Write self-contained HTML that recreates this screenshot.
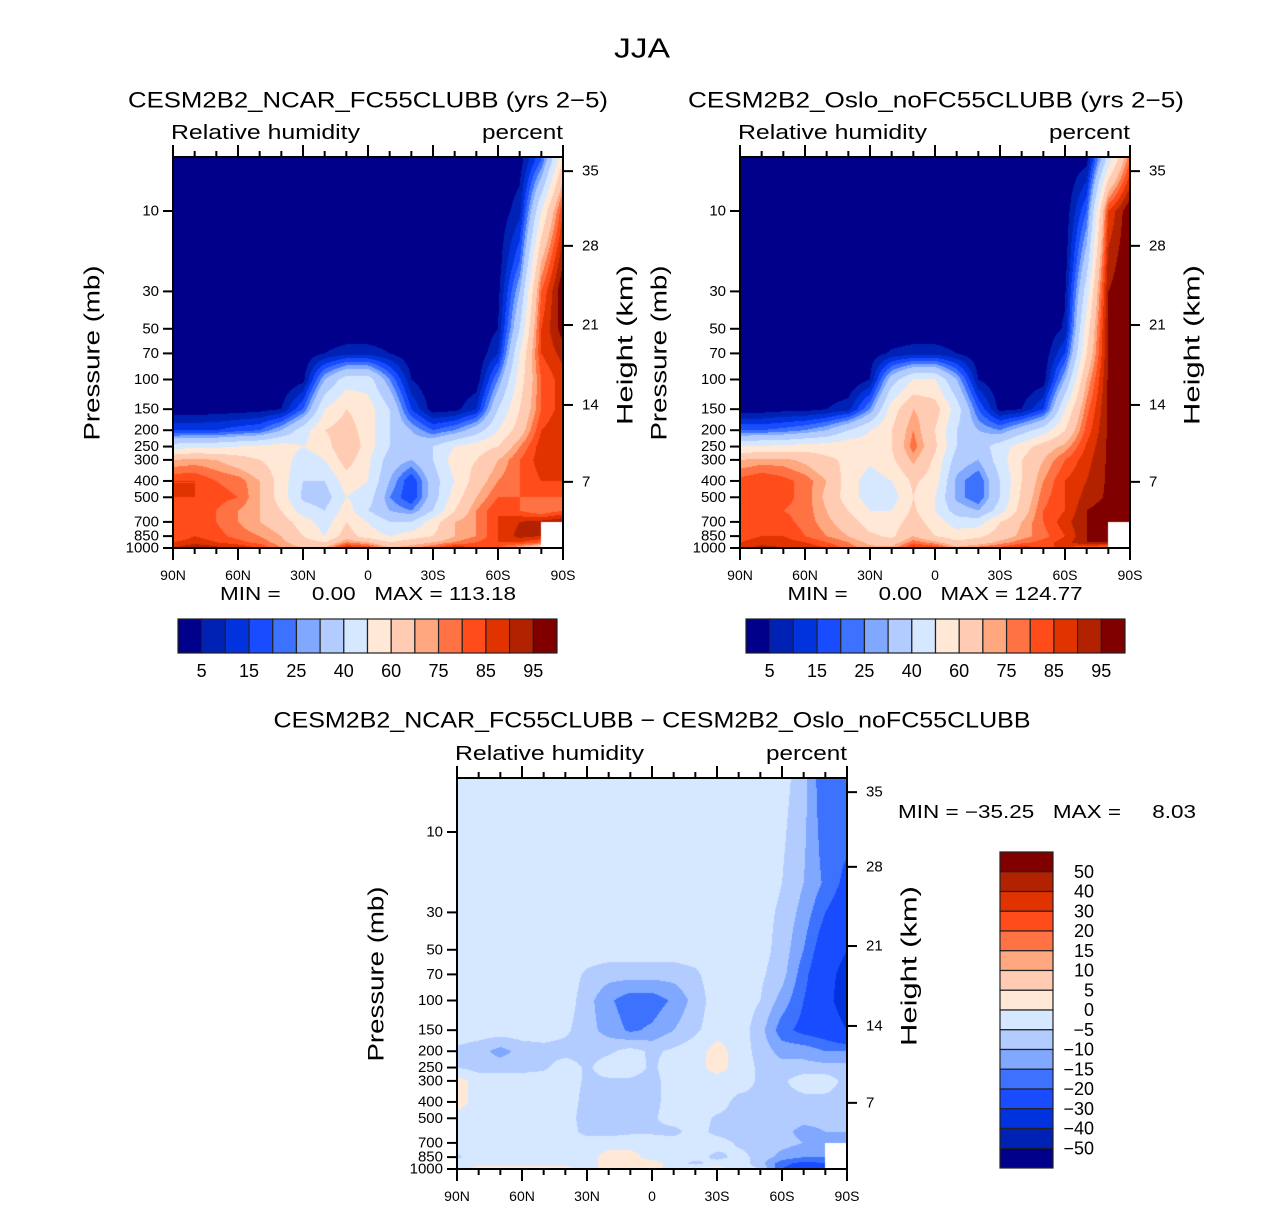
<!DOCTYPE html>
<html><head><meta charset="utf-8">
<style>
html,body{margin:0;padding:0;background:#fff;}
#wrap{position:relative;width:1285px;height:1207px;overflow:hidden;font-family:"Liberation Sans",sans-serif;}
canvas{position:absolute;}
svg{position:absolute;left:0;top:0;}
text{font-family:"Liberation Sans",sans-serif;fill:#000;white-space:pre;}
</style></head><body>
<div id="wrap">
<canvas id="c1" width="390" height="391" style="left:173px;top:157px"></canvas>
<canvas id="c2" width="390" height="391" style="left:740px;top:157px"></canvas>
<canvas id="c3" width="390" height="391" style="left:457px;top:778px"></canvas>
<svg id="s" width="1285" height="1207"></svg>
</div>
<script>
// ---- data ----
const lats = ["90N","80N","70N","60N","50N","40N","30N","20N","10N","0","10S","20S","30S","40S","50S","60S","70S","80S","90S"];
const plevs = [5,10,20,30,50,70,100,150,200,250,300,400,500,600,700,850,925,1000];
const xTickLabels = ["90N","60N","30N","0","30S","60S","90S"];
const pTickLabels = [10,30,50,70,100,150,200,250,300,400,500,700,850,1000];
const hTickLabels = [35,28,21,14,7];
const hTickPressures = [5.8,16.1,47.5,141.6,405];
const rhLevels = [5,10,15,20,25,30,40,50,60,70,75,80,85,90,95];
const rhLabels = ["5","15","25","40","60","75","85","95"];
const diffLevels = [-50,-40,-30,-20,-15,-10,-5,0,5,10,15,20,30,40,50];
const diffLabels = ["50","40","30","20","15","10","5","0","\u22125","\u221210","\u221215","\u221220","\u221230","\u221240","\u221250"];
const palette = ["#00008a","#0022b4","#0033dd","#1a4cff","#3d72ff","#80a8ff","#b3ccff","#d6e8ff","#ffe8d6","#ffccb3","#ffa880","#ff7244","#ff4c1a","#e03300","#b32200","#800000"];
const N = null;
const ncar = [
[0,0,0,0,0,0,0,0,0,0,0,0,0,0,0,0,2,20,60],
[0,0,0,0,0,0,0,0,0,0,0,0,0,0,0,1,8,50,85],
[0,0,0,0,0,0,0,0,0,0,0,0,0,0,0,2,20,70,95],
[0,0,0,0,0,0,0,0,0,0,0,0,0,0,0,3,30,80,100],
[0,0,0,0,0,0,0,0,0,0,0,0,0,0,0,5,40,85,98],
[0,0,0,0,0,0,1,5,8,8,5,1,0,0,0,10,50,85,92],
[0,0,0,0,0,0,3,30,45,45,25,5,0,0,1,25,55,80,88],
[1,1,2,2,3,5,20,50,60,55,40,15,2,3,10,40,60,80,88],
[15,15,15,18,20,30,45,60,65,55,40,30,20,25,35,50,65,85,90],
[45,48,48,50,52,55,50,55,70,55,40,35,40,50,55,60,75,88,90],
[70,72,70,65,60,55,45,50,65,52,35,30,40,55,60,70,80,88,88],
[85,85,80,78,70,55,40,40,55,50,30,15,35,50,65,75,80,85,85],
[85,85,82,80,70,55,38,35,50,45,25,15,35,55,70,80,80,80,80],
[80,82,80,75,70,60,45,40,55,40,30,25,40,60,75,85,80,75,80],
[85,85,80,75,70,65,55,45,60,50,40,40,55,70,75,85,90,92,95],
[80,85,82,78,75,70,60,50,65,55,50,55,60,70,75,85,92,90,N],
[85,88,85,82,78,72,65,60,75,70,60,65,70,75,80,85,85,80,N],
[90,95,92,90,85,75,70,70,90,85,70,75,80,90,85,80,70,60,N]];
const oslo = [
[0,0,0,0,0,0,0,0,0,0,0,0,0,0,0,0,3,45,80],
[0,0,0,0,0,0,0,0,0,0,0,0,0,0,0,1,20,85,100],
[0,0,0,0,0,0,0,0,0,0,0,0,0,0,0,2,35,92,100],
[0,0,0,0,0,0,0,0,0,0,0,0,0,0,0,4,45,95,100],
[0,0,0,0,0,0,0,0,0,0,0,0,0,0,0,6,55,96,100],
[0,0,0,0,0,0,2,6,8,8,5,1,0,0,1,15,60,96,100],
[0,0,0,0,0,0,5,35,50,50,30,5,0,0,2,30,70,96,100],
[2,2,3,3,5,8,25,55,70,65,45,20,3,5,15,50,78,96,100],
[20,20,22,25,30,40,50,60,75,60,40,30,25,35,45,60,82,96,100],
[50,52,52,55,55,58,55,60,78,62,40,35,45,55,65,72,86,96,100],
[70,72,72,68,62,58,52,58,72,58,35,30,45,60,70,80,88,96,100],
[82,85,82,78,70,55,45,50,62,55,28,20,40,60,75,85,90,96,100],
[82,85,82,78,68,55,45,45,60,50,28,20,40,62,78,85,92,96,100],
[82,82,80,78,70,60,50,50,62,50,35,30,45,65,80,85,95,98,100],
[85,85,82,78,72,65,55,55,65,55,45,45,60,70,80,88,95,98,100],
[82,85,85,80,75,70,62,58,70,60,55,58,65,72,78,85,95,98,N],
[85,88,88,85,80,75,68,65,78,72,62,65,72,78,82,88,95,95,N],
[88,92,90,90,85,78,72,72,88,85,72,78,82,88,85,85,80,75,N]];
const diff = [
[-2,-2,-2,-2,-2,-2,-2,-2,-2,-2,-2,-2,-2,-2,-2,-3,-8,-20,-15],
[-2,-2,-2,-2,-2,-2,-2,-2,-2,-2,-2,-2,-2,-2,-2,-4,-9,-18,-18],
[-2,-2,-2,-2,-2,-2,-2,-2,-2,-2,-2,-2,-2,-2,-2,-5,-10,-16,-22],
[-2,-2,-2,-2,-2,-2,-2,-2,-2,-2,-2,-2,-2,-2,-3,-6,-12,-20,-25],
[-2,-2,-2,-2,-2,-2,-2,-2,-2,-2,-2,-2,-2,-2,-3,-7,-15,-25,-30],
[-2,-2,-2,-2,-2,-2,-6,-8,-8,-8,-8,-6,-2,-2,-4,-8,-18,-27,-33],
[-2,-2,-2,-2,-2,-2,-8,-14,-18,-18,-14,-8,-2,-2,-5,-12,-20,-27,-35],
[-2,-2,-2,-2,-2,-4,-8,-12,-16,-14,-10,-6,-2,-2,-8,-18,-22,-24,-30],
[-6,-8,-12,-8,-7,-7,-7,-6,-3,-6,-4,-2,2,-2,-7,-12,-12,-15,-15],
[-5,-7,-7,-7,-6,-2,-6,-2,-2,-6,-2,-2,2,-2,-6,-8,-8,-8,-8],
[2,-2,-2,-2,-2,-2,-6,-6,-6,-7,-2,-2,-2,-2,-6,-6,-2,-2,-7],
[2,-2,-2,-2,-2,-2,-7,-8,-8,-7,-2,-2,-2,-7,-6,-7,-7,-7,-7],
[-2,-2,-2,-2,-2,-2,-8,-8,-8,-6,-2,-2,-6,-7,-6,-7,-8,-8,-8],
[-2,-2,-2,-2,-2,-2,-7,-7,-6,-6,-7,-2,-7,-8,-7,-8,-12,-10,-10],
[-2,-2,-2,-2,-2,-2,-2,-2,-2,-2,-2,-2,-2,-6,-7,-8,-10,-12,-12],
[-6,-2,-2,-2,-2,-2,-2,2,2,-2,-2,-2,-7,-3,-7,-12,-15,-15,N],
[-2,-2,-2,-2,-2,-2,-2,2,2,2,-2,-7,-2,-2,-8,-18,-22,-20,N],
[-2,2,2,2,2,2,-2,2,2,2,-2,2,2,-2,-5,-20,-25,-20,N]];

// ---- axes helpers ----
const PW = 390, PH = 391;
function xOfLat(i){ return i * PW / (lats.length - 1); }
function yOfP(p){ return 54 + (Math.log10(p) - 1) * 168.5; }
function colorIndex(v, levels){ let k = 0; while (k < levels.length && v >= levels[k]) k++; return k; }

function drawField(id, grid, levels){
  const ctx = document.getElementById(id).getContext('2d');
  const logs = plevs.map(p => Math.log10(p));
  for (let py = 0; py < PH; py++){
    const lp = 1 + (py + 0.5 - 54) / 168.5;
    let r = 0; while (r < logs.length - 2 && lp > logs[r+1]) r++;
    let fy = (lp - logs[r]) / (logs[r+1] - logs[r]); fy = Math.max(0, Math.min(1, fy));
    for (let px = 0; px < PW; px++){
      const fx = (px + 0.5) / PW * (lats.length - 1);
      let c = Math.min(lats.length - 2, Math.floor(fx)); const tx = fx - c;
      const a = grid[r][c], b = grid[r][c+1], d = grid[r+1][c], e = grid[r+1][c+1];
      if (a === null || b === null || d === null || e === null) continue;
      const v = (a*(1-tx) + b*tx) * (1-fy) + (d*(1-tx) + e*tx) * fy;
      ctx.fillStyle = palette[colorIndex(v, levels)];
      ctx.fillRect(px, py, 1, 1);
    }
  }
}
drawField('c1', ncar, rhLevels);
drawField('c2', oslo, rhLevels);
drawField('c3', diff, diffLevels);

// ---- svg annotations ----
const S = document.getElementById('s'), NS = 'http://www.w3.org/2000/svg';
function el(tag, attrs, txt){ const e = document.createElementNS(NS, tag); for (const k in attrs) e.setAttribute(k, attrs[k]); if (txt !== undefined) e.textContent = txt; S.appendChild(e); return e; }
function txt(x, y, s, size, anchor, name, rot, len){
  const t = el('text', {x:x, y:y, 'font-size':size, 'text-anchor':anchor||'start', 'dominant-baseline':'central'}, s);
  if (rot) t.setAttribute('transform', 'rotate(-90 ' + x + ' ' + y + ')');
  if (len) { t.setAttribute('textLength', len); t.setAttribute('lengthAdjust', 'spacingAndGlyphs'); }
  
  
  return t;
}
function panel(ox, oy, pre){
  const fr = el('rect', {x:ox, y:oy, width:PW, height:PH, fill:'none', stroke:'#000', 'stroke-width':2});
  
  
  for (let d = 0; d <= 18; d++){
    const x = ox + xOfLat(d), major = d % 3 === 0, L = major ? 12 : 6;
    const t1 = el('line', {x1:x, x2:x, y1:oy, y2:oy - L, stroke:'#000', 'stroke-width':2});
    
    
    const t2 = el('line', {x1:x, x2:x, y1:oy + PH, y2:oy + PH + L, stroke:'#000', 'stroke-width':2});
    
    
  }
  xTickLabels.forEach((s, k) => txt(ox + xOfLat(k*3), oy + PH + 27, s, 14, 'middle', pre + '-x-tick-label'));
  pTickLabels.forEach(p => {
    const y = oy + yOfP(p);
    const l = el('line', {x1:ox - 10, x2:ox, y1:y, y2:y, stroke:'#000', 'stroke-width':2});
    
    
    txt(ox - 14, y, String(p), 15, 'end', pre + '-pressure-tick-label');
  });
  hTickLabels.forEach((h, k) => {
    const y = oy + yOfP(hTickPressures[k]);
    const l = el('line', {x1:ox + PW, x2:ox + PW + 10, y1:y, y2:y, stroke:'#000', 'stroke-width':2});
    
    
    txt(ox + PW + 19, y, String(h), 15, 'start', pre + '-height-tick-label');
  });
  txt(ox - 81, oy + 196, 'Pressure (mb)', 22, 'middle', pre + '-y-axis-title', true, 175);
  txt(ox + PW + 62, oy + 188, 'Height (km)', 22, 'middle', pre + '-right-axis-title', true, 160);
  txt(ox - 2, oy - 24, 'Relative humidity', 20, 'start', pre + '-variable-label', false, 189);
  txt(ox + PW, oy - 24, 'percent', 20, 'end', pre + '-units-label', false, 81);
}
panel(173, 157, 'ncar');
panel(740, 157, 'oslo');
panel(457, 778, 'diff');

txt(642, 48, 'JJA', 28, 'middle', 'figure-title', false, 56);
txt(368, 100, 'CESM2B2_NCAR_FC55CLUBB (yrs 2\u22125)', 22, 'middle', 'ncar-panel-title', false, 480);
txt(936, 100, 'CESM2B2_Oslo_noFC55CLUBB (yrs 2\u22125)', 22, 'middle', 'oslo-panel-title', false, 496);
txt(652, 720, 'CESM2B2_NCAR_FC55CLUBB \u2212 CESM2B2_Oslo_noFC55CLUBB', 22, 'middle', 'difference-panel-title', false, 757);
txt(368, 594, 'MIN =     0.00   MAX = 113.18', 18, 'middle', 'ncar-min-max', false, 296);
txt(935, 594, 'MIN =     0.00   MAX = 124.77', 18, 'middle', 'oslo-min-max', false, 295);
txt(898, 812, 'MIN = \u221235.25   MAX =     8.03', 18, 'start', 'difference-min-max', false, 298);

function hbar(x0, y0, pre){
  const w = 379 / 16;
  palette.forEach((c, k) => {
    const r = el('rect', {x:x0 + k*w, y:y0, width:w, height:34, fill:c, stroke:'#222', 'stroke-width':1.2});
    
    
  });
  rhLabels.forEach((s, k) => txt(x0 + (2*k + 1) * w, y0 + 52, s, 18, 'middle', pre + '-colorbar-label'));
}
hbar(178, 619, 'ncar');
hbar(746, 619, 'oslo');

(function vbar(){
  const x0 = 1000, y0 = 852, h = 316 / 16;
  for (let k = 0; k < 16; k++){
    const r = el('rect', {x:x0, y:y0 + k*h, width:53, height:h, fill:palette[15 - k], stroke:'#222', 'stroke-width':1.2});
    
    
  }
  diffLabels.forEach((s, k) => txt(1094, y0 + (k + 1) * h, s, 18, 'end', 'diff-colorbar-label'));
})();
</script>
</body></html>
